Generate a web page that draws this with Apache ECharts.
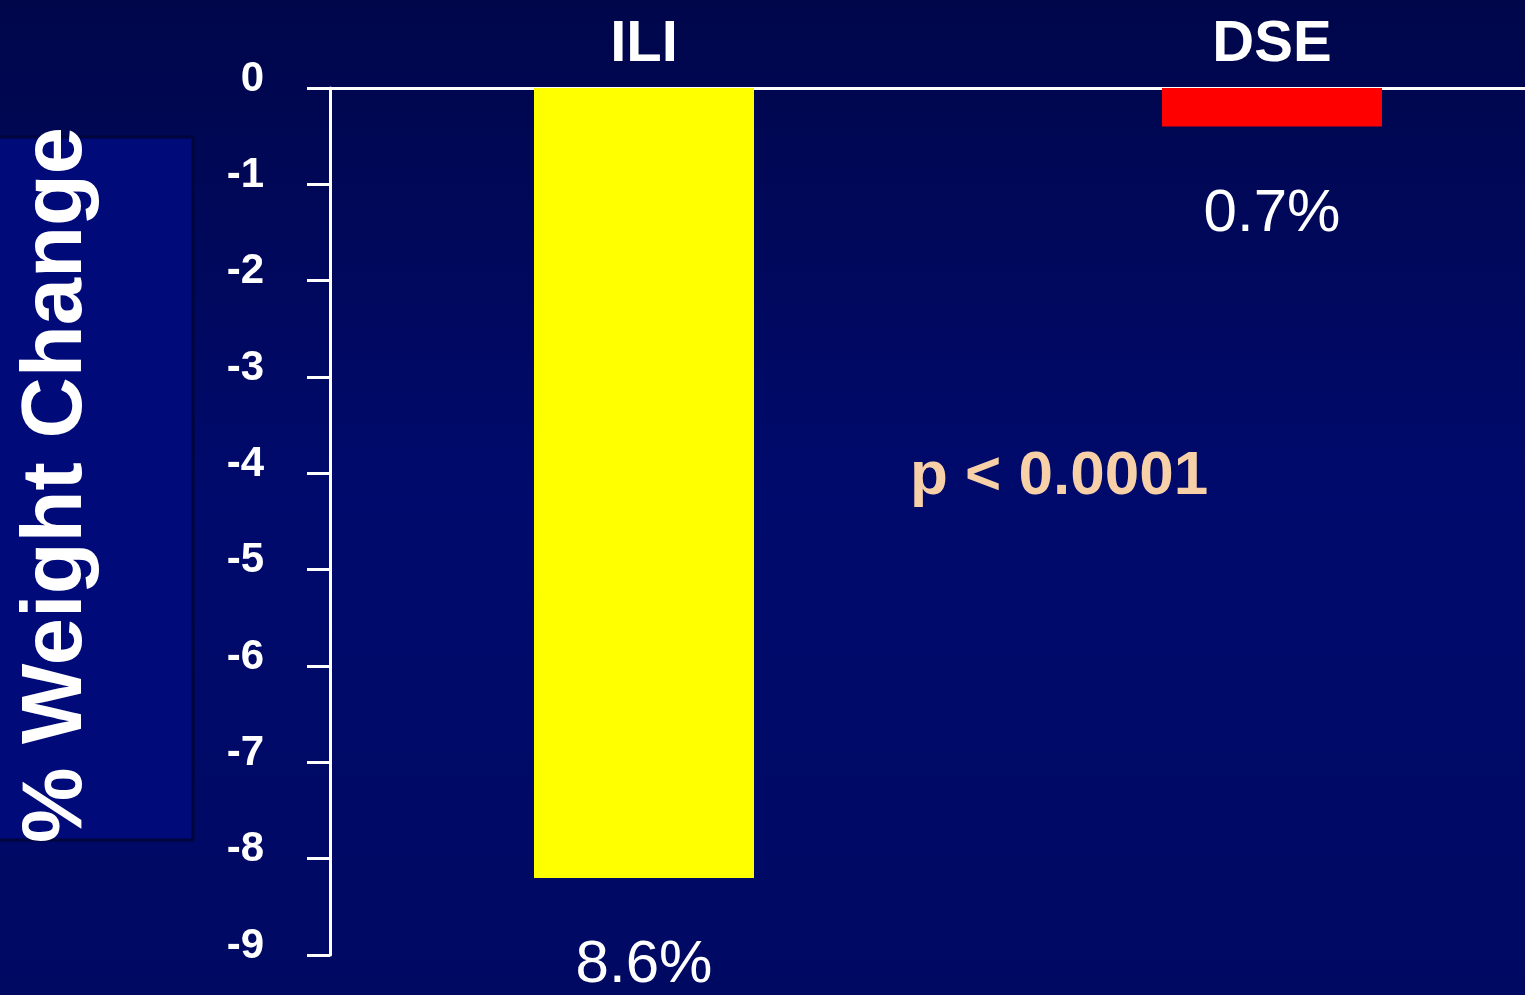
<!DOCTYPE html>
<html>
<head>
<meta charset="utf-8">
<script src="https://cdn.jsdelivr.net/npm/echarts@6/dist/echarts.min.js"></script>
<style>
  html, body { margin: 0; padding: 0; }
  #chart { width: 1525px; height: 995px; }
</style>
</head>
<body>
<div id="chart"></div>
<script>
// data
var groups = ['ILI', 'DSE'];
var weightChange = [-8.2, -0.4];
var barLabels = ['8.6%', '0.7%'];
var barColors = ['#ffff00', '#ff0000'];
var yTitle = '% Weight Change';
var pText = 'p < 0.0001';

var myChart = echarts.init(document.getElementById('chart'));

myChart.setOption({
  backgroundColor: {
    type: 'linear', x: 0, y: 0, x2: 0, y2: 1,
    colorStops: [
      { offset: 0, color: '#00064a' },
      { offset: 0.5, color: '#000a6c' },
      { offset: 1, color: '#000962' }
    ]
  },
  grid: {
    left: 330,
    top: 88,
    right: -61,
    height: 867,
    outerBoundsMode: 'none'
  },
  graphic: [
    {
      type: 'rect',
      z: -1,
      shape: { x: -2, y: 137, width: 195, height: 703 },
      style: { fill: '#000a78', stroke: '#00053c', lineWidth: 3 }
    },
    {
      type: 'text',
      x: 58,
      y: 485,
      rotation: Math.PI / 2,
      style: {
        text: yTitle,
        fill: '#ffffff',
        align: 'center',
        verticalAlign: 'middle',
        font: 'bold 85px "Liberation Sans", Arial, sans-serif'
      }
    },
    {
      type: 'text',
      left: 910,
      top: 446,
      style: {
        text: pText,
        fill: '#f7d0a8',
        font: 'bold 62px "Liberation Sans", Arial, sans-serif'
      }
    }
  ],
  xAxis: {
    type: 'category',
    position: 'top',
    data: groups,
    axisLine: { lineStyle: { color: '#ffffff', width: 3 } },
    axisTick: { show: false },
    axisLabel: {
      color: '#ffffff',
      fontSize: 58,
      fontWeight: 'bold',
      fontFamily: '"Liberation Sans", Arial, sans-serif',
      margin: 14
    }
  },
  yAxis: {
    type: 'value',
    min: -9,
    max: 0,
    interval: 1,
    axisLine: { show: true, lineStyle: { color: '#ffffff', width: 3 } },
    axisTick: { show: true, length: 23, lineStyle: { color: '#ffffff', width: 3 } },
    splitLine: { show: false },
    axisLabel: {
      color: '#ffffff',
      fontSize: 42,
      fontWeight: 'bold',
      fontFamily: '"Liberation Sans", Arial, sans-serif',
      margin: 66,
      verticalAlign: 'bottom',
      lineHeight: 18
    }
  },
  series: [
    {
      type: 'bar',
      barWidth: 220,
      data: weightChange.map(function (v, i) {
        return { value: v, itemStyle: { color: barColors[i] } };
      }),
      label: {
        show: true,
        position: 'bottom',
        distance: 58,
        color: '#ffffff',
        fontSize: 60,
        fontFamily: '"Liberation Sans", Arial, sans-serif',
        formatter: function (p) { return barLabels[p.dataIndex]; }
      }
    }
  ]
});
</script>
</body>
</html>
